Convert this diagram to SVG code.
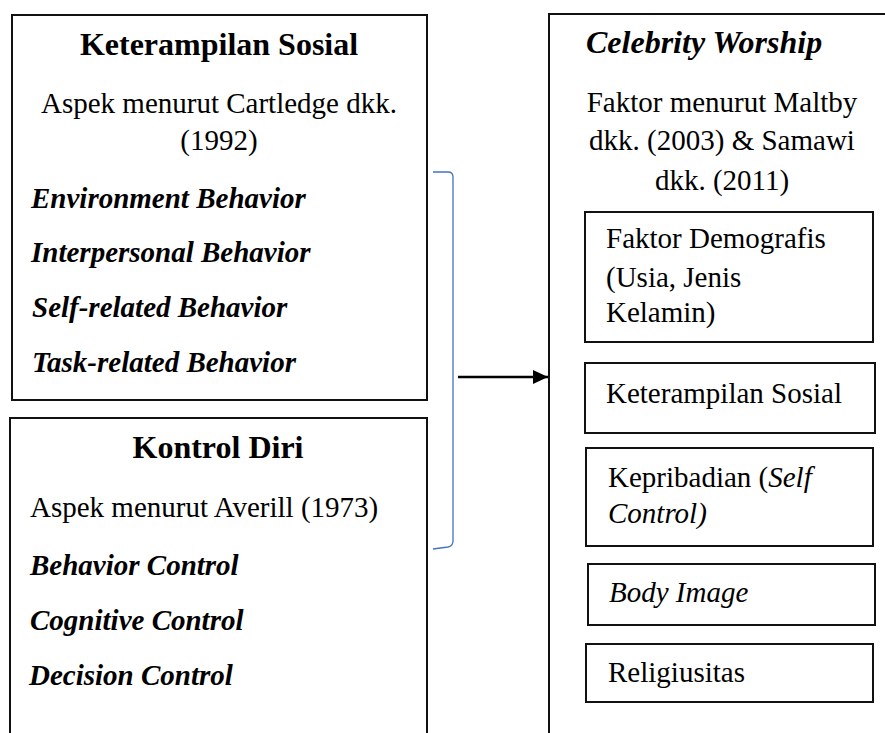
<svg xmlns="http://www.w3.org/2000/svg" width="885" height="733" viewBox="0 0 885 733">
<style>
.box{fill:#fff;stroke:#111;stroke-width:2}
.t{font-family:"Liberation Serif","Times New Roman",serif;fill:#000}
.title{font-size:32px;font-weight:bold}
.body{font-size:29px}
.bi{font-size:29px;font-weight:bold;font-style:italic}
.it{font-style:italic}
.mid{text-anchor:middle}
</style>
<defs>
<marker id="ah" markerWidth="16" markerHeight="14" refX="15" refY="7" orient="auto" markerUnits="userSpaceOnUse">
<path d="M0,0 L15,7 L0,14 Z" fill="#000"/>
</marker>
</defs>
<g id="keterampilan-sosial">
<rect class="box" x="12" y="15" width="415" height="385"/>
<text class="t title mid" x="219" y="55">Keterampilan Sosial</text>
<text class="t body mid" x="219" y="113">Aspek menurut Cartledge dkk.</text>
<text class="t body mid" x="219" y="150">(1992)</text>
<text class="t bi" x="31" y="208">Environment Behavior</text>
<text class="t bi" x="31" y="262">Interpersonal Behavior</text>
<text class="t bi" x="32" y="317">Self-related Behavior</text>
<text class="t bi" x="32" y="372">Task-related Behavior</text>
</g>
<g id="kontrol-diri">
<rect class="box" x="10" y="418" width="417" height="400"/>
<text class="t title mid" x="218" y="458">Kontrol Diri</text>
<text class="t body" x="30" y="517">Aspek menurut Averill (1973)</text>
<text class="t bi" x="30" y="575">Behavior Control</text>
<text class="t bi" x="30" y="630">Cognitive Control</text>
<text class="t bi" x="29" y="685">Decision Control</text>
</g>
<g id="connectors">
<path d="M433,172 L448,172 Q453,172 453,177 L453,541 Q453,546 448,547 L433,549" fill="none" stroke="#4472C4" stroke-width="1.3"/>
<line x1="458" y1="377" x2="548" y2="377" stroke="#000" stroke-width="2.5" marker-end="url(#ah)"/>
</g>
<g id="celebrity-worship">
<rect class="box" x="549" y="14" width="400" height="800"/>
<text class="t title it" x="586" y="53">Celebrity Worship</text>
<text class="t body mid" x="722" y="112">Faktor menurut Maltby</text>
<text class="t body mid" x="722" y="150">dkk. (2003) &amp; Samawi</text>
<text class="t body mid" x="722" y="190">dkk. (2011)</text>
</g>
<g id="faktor-demografis">
<rect class="box" x="585" y="212" width="288" height="130"/>
<text class="t body" x="606" y="248">Faktor Demografis</text>
<text class="t body" x="606" y="287">(Usia, Jenis</text>
<text class="t body" x="606" y="322">Kelamin)</text>
</g>
<g id="faktor-keterampilan-sosial">
<rect class="box" x="585" y="363" width="290" height="70"/>
<text class="t body" x="606" y="403">Keterampilan Sosial</text>
</g>
<g id="kepribadian">
<rect class="box" x="586" y="448" width="287" height="98"/>
<text class="t body" x="608" y="487">Kepribadian (<tspan class="it">Self</tspan></text>
<text class="t body it" x="608" y="523">Control)</text>
</g>
<g id="body-image">
<rect class="box" x="588" y="564" width="287" height="61"/>
<text class="t body it" x="609" y="602">Body Image</text>
</g>
<g id="religiusitas">
<rect class="box" x="586" y="644" width="287" height="58"/>
<text class="t body" x="608" y="682">Religiusitas</text>
</g>
</svg>
